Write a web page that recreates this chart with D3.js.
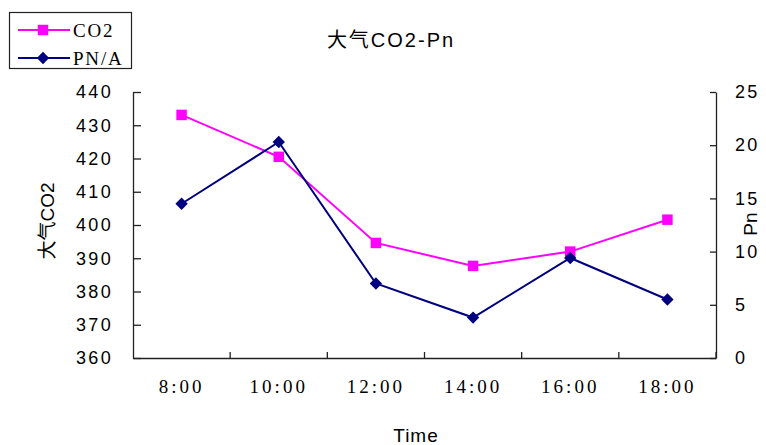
<!DOCTYPE html>
<html>
<head>
<meta charset="utf-8">
<script src="https://cdn.jsdelivr.net/npm/d3@7"></script>
<style>
  body { margin: 0; background: #fff; }
  svg { display: block; }
</style>
</head>
<body>
<div id="chart"></div>
<script>
// données
const times = ["8:00", "10:00", "12:00", "14:00", "16:00", "18:00"];
const co2 = [433.1, 420.5, 394.6, 387.7, 392.0, 401.6];
const pn = [14.5, 20.3, 7.0, 3.8, 9.4, 5.5];
const co2Ticks = [360, 370, 380, 390, 400, 410, 420, 430, 440];
const pnTicks = [0, 5, 10, 15, 20, 25];

const W = 766, H = 445;
const margin = { top: 92, right: 50, bottom: 87, left: 133 };
const width = W - margin.left - margin.right;
const height = H - margin.top - margin.bottom;

const svg = d3.select("#chart")
  .append("svg")
  .attr("width", W)
  .attr("height", H);

const g = svg.append("g")
  .attr("transform", `translate(${margin.left},${margin.top})`);

// échelles
const x = d3.scaleBand().domain(times).range([0, width]).padding(0);
const yL = d3.scaleLinear().domain([360, 440]).range([height, 0]);
const yR = d3.scaleLinear().domain([0, 25]).range([height, 0]);
const cx = d => x(d) + x.bandwidth() / 2;

const axisColor = "#222";

// axe gauche
const left = g.append("g")
  .call(d3.axisLeft(yL).tickValues(co2Ticks).tickSizeInner(-8).tickSizeOuter(0).tickPadding(20).tickFormat(d3.format("d")));
left.selectAll("text")
  .style("font-family", "Liberation Sans, Arial, sans-serif")
  .style("font-size", "18px")
  .style("letter-spacing", "2.3px")
  .attr("fill", "#000");

// axe droit
const right = g.append("g")
  .attr("transform", `translate(${width},0)`)
  .call(d3.axisRight(yR).tickValues(pnTicks).tickSizeInner(-6).tickSizeOuter(0).tickPadding(19));
right.selectAll("text")
  .style("font-family", "Liberation Sans, Arial, sans-serif")
  .style("font-size", "18px")
  .style("letter-spacing", "2.3px")
  .attr("fill", "#000");

// axe du bas : étiquettes centrées, graduations aux limites
const bottom = g.append("g")
  .attr("transform", `translate(0,${height})`)
  .call(d3.axisBottom(x).tickSize(0).tickPadding(22));
bottom.selectAll("text")
  .style("font-family", "Liberation Serif, 'Times New Roman', serif")
  .style("font-size", "19px")
  .style("letter-spacing", "3px")
  .attr("fill", "#000");

bottom.selectAll(".bound")
  .data(times)
  .enter()
  .append("line")
  .attr("class", "bound")
  .attr("x1", d => x(d) + x.bandwidth())
  .attr("x2", d => x(d) + x.bandwidth())
  .attr("y1", 0)
  .attr("y2", -6)
  .attr("stroke", axisColor);

g.selectAll(".domain, .tick line")
  .attr("stroke", axisColor)
  .attr("stroke-width", 1.3);
bottom.selectAll("line").attr("stroke-width", 1.3);

// lignes
const lineCO2 = d3.line().x((d, i) => cx(times[i])).y(d => yL(d));
const linePn = d3.line().x((d, i) => cx(times[i])).y(d => yR(d));

g.append("path")
  .datum(co2)
  .attr("d", lineCO2)
  .attr("fill", "none")
  .attr("stroke", "#ff00ff")
  .attr("stroke-width", 2);

g.append("path")
  .datum(pn)
  .attr("d", linePn)
  .attr("fill", "none")
  .attr("stroke", "#000080")
  .attr("stroke-width", 2);

// marqueurs
const square = d3.symbol().type(d3.symbolSquare).size(110);
const diamond = d3.symbol().type(d3.symbolSquare).size(76);

g.selectAll(".sq")
  .data(co2)
  .enter()
  .append("path")
  .attr("class", "sq")
  .attr("d", square)
  .attr("transform", (d, i) => `translate(${cx(times[i])},${yL(d)})`)
  .attr("fill", "#ff00ff");

g.selectAll(".dm")
  .data(pn)
  .enter()
  .append("path")
  .attr("class", "dm")
  .attr("d", diamond)
  .attr("transform", (d, i) => `translate(${cx(times[i])},${yR(d)}) rotate(45)`)
  .attr("fill", "#000080");

// titres
svg.append("text")
  .attr("x", 391)
  .attr("y", 47)
  .attr("text-anchor", "middle")
  .style("font-family", "Liberation Sans, 'Noto Sans CJK SC', sans-serif")
  .style("font-size", "20px")
  .style("letter-spacing", "2px")
  .text("大气CO2-Pn");

svg.append("text")
  .attr("transform", "rotate(-90)")
  .attr("x", -221)
  .attr("y", 54)
  .attr("text-anchor", "middle")
  .style("font-family", "Liberation Sans, 'Noto Sans CJK SC', sans-serif")
  .style("font-size", "19px")
  .text("大气CO2");

svg.append("text")
  .attr("transform", "rotate(-90)")
  .attr("x", -224)
  .attr("y", 757)
  .attr("text-anchor", "middle")
  .style("font-family", "Liberation Sans, Arial, sans-serif")
  .style("font-size", "19px")
  .text("Pn");

svg.append("text")
  .attr("x", 416)
  .attr("y", 442)
  .attr("text-anchor", "middle")
  .style("font-family", "Liberation Sans, Arial, sans-serif")
  .style("font-size", "19px")
  .style("letter-spacing", "1px")
  .text("Time");

// légende
const legend = svg.append("g");
legend.append("rect")
  .attr("x", 9.5).attr("y", 12.5)
  .attr("width", 122).attr("height", 56)
  .attr("fill", "#fff")
  .attr("stroke", "#222")
  .attr("stroke-width", 1.2);

const legendItems = [
  { name: "CO2", color: "#ff00ff", sym: square, rot: "" },
  { name: "PN/A", color: "#000080", sym: diamond, rot: " rotate(45)" }
];
legendItems.forEach((it, i) => {
  const yy = 30 + i * 28;
  legend.append("line")
    .attr("x1", 18).attr("x2", 70)
    .attr("y1", yy).attr("y2", yy)
    .attr("stroke", it.color).attr("stroke-width", 2);
  legend.append("path")
    .attr("d", it.sym)
    .attr("transform", `translate(43,${yy})${it.rot}`)
    .attr("fill", it.color);
  legend.append("text")
    .attr("x", 73).attr("y", yy + 6.5)
    .style("font-family", "Liberation Serif, 'Times New Roman', serif")
    .style("font-size", "19px")
    .style("letter-spacing", "1.8px")
    .text(it.name);
});
</script>
</body>
</html>
